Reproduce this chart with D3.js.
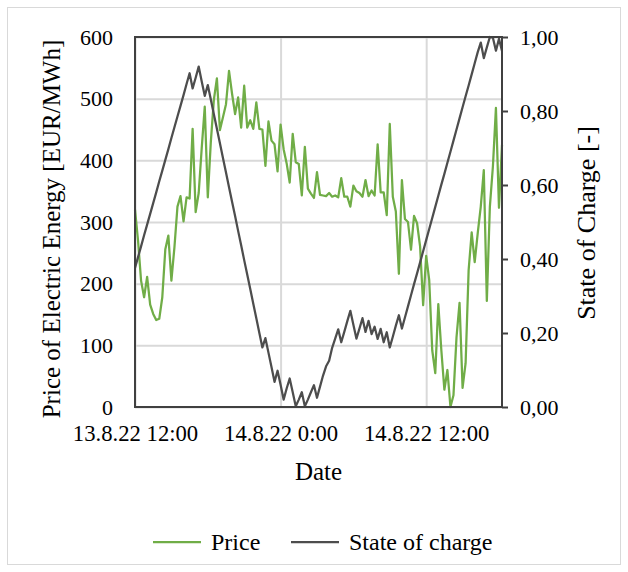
<!DOCTYPE html>
<html>
<head>
<meta charset="utf-8">
<script src="https://cdn.jsdelivr.net/npm/d3@7"></script>
<style>
    body { margin: 0; background: #ffffff; }
    svg text { font-family: "Liberation Serif", "Times New Roman", Times, Tinos, "DejaVu Serif", serif; fill: #000000; }
</style>
</head>
<body>
<script>
// data (15 min steps starting 13.8.22 12:00)
const startTime = new Date(2022, 7, 13, 12, 0);
const stepMinutes = 15;

const priceValues = [
    320, 270, 205, 178, 211, 166, 151, 141, 143, 178,
    256, 278, 205, 259, 325, 342, 301, 340, 338, 451,
    316, 347, 420, 487, 340, 430, 498, 533, 449, 470,
    491, 545, 508, 475, 502, 453, 521, 453, 465, 451,
    494, 451, 450, 391, 463, 432, 426, 382, 458, 418,
    395, 364, 443, 397, 394, 343, 422, 354, 346, 339,
    381, 344, 343, 342, 347, 341, 343, 340, 371, 341,
    341, 325, 359, 350, 347, 341, 368, 342, 351, 343,
    426, 348, 348, 311, 459, 341, 317, 216, 368, 305,
    300, 255, 310, 298, 260, 165, 245, 206, 92, 55,
    167, 92, 28, 60, 0, 19, 113, 169, 31, 71,
    222, 283, 235, 282, 325, 384, 172, 325, 390, 485,
    323, 425
];

const socValues = [
    0.376, 0.405, 0.434, 0.464, 0.493, 0.522, 0.551, 0.580, 0.610, 0.639,
    0.668, 0.697, 0.727, 0.756, 0.785, 0.814, 0.843, 0.873, 0.902, 0.861,
    0.890, 0.920, 0.880, 0.841, 0.870, 0.831, 0.791, 0.752, 0.713, 0.673,
    0.634, 0.594, 0.555, 0.516, 0.476, 0.437, 0.397, 0.358, 0.319, 0.279,
    0.240, 0.200, 0.161, 0.186, 0.147, 0.108, 0.068, 0.098, 0.060, 0.020,
    0.050, 0.077, 0.040, 0.002, 0.020, 0.040, 0.002, 0.020, 0.040, 0.059,
    0.025, 0.055, 0.085, 0.110, 0.125, 0.160, 0.185, 0.210, 0.175, 0.203,
    0.232, 0.260, 0.222, 0.185, 0.212, 0.240, 0.203, 0.233, 0.197, 0.217,
    0.184, 0.211, 0.175, 0.202, 0.161, 0.190, 0.220, 0.248, 0.212, 0.242,
    0.272, 0.302, 0.332, 0.361, 0.391, 0.421, 0.451, 0.481, 0.511, 0.541,
    0.571, 0.601, 0.630, 0.660, 0.690, 0.720, 0.750, 0.780, 0.810, 0.840,
    0.869, 0.899, 0.929, 0.959, 0.985, 0.943, 0.972, 1.000, 0.998, 0.963,
    0.995, 0.962
];

const xTickDates = [
    new Date(2022, 7, 13, 12, 0),
    new Date(2022, 7, 14, 0, 0),
    new Date(2022, 7, 14, 12, 0)
];
const priceTicks = [0, 100, 200, 300, 400, 500, 600];
const socTicks = [0, 0.2, 0.4, 0.6, 0.8, 1.0];
const seriesNames = ["Price", "State of charge"];
const colors = ["#70ad47", "#4d4d4d"];

const serif = '"Liberation Serif", "Times New Roman", Times, Tinos, "DejaVu Serif", serif';

// dimensions
const width = 628;
const height = 572;
const margin = { top: 37, right: 126, bottom: 165, left: 135 };
const plotW = width - margin.left - margin.right;
const plotH = height - margin.top - margin.bottom;

const times = priceValues.map((d, i) => new Date(startTime.getTime() + i * stepMinutes * 60000));

const x = d3.scaleTime()
    .domain(d3.extent(times))
    .range([0, plotW]);
const yPrice = d3.scaleLinear().domain([0, 600]).range([plotH, 0]);
const ySoc = d3.scaleLinear().domain([0, 1]).range([plotH, 0]);

const commaFormat = d3.formatLocale({ decimal: ",", thousands: ".", grouping: [3], currency: ["", "€"] }).format(".2f");
const dateFormat = d3.timeFormat("%-d.%-m.%y %-H:%M");

const svg = d3.select("body")
    .append("svg")
    .attr("width", width)
    .attr("height", height)
    .style("font-family", serif);

// outer chart border
svg.append("rect")
    .attr("x", 7.5)
    .attr("y", 7.5)
    .attr("width", 613)
    .attr("height", 557)
    .attr("fill", "none")
    .style("stroke", "#d9d9d9")
    .style("stroke-width", 1);

const g = svg.append("g")
    .attr("transform", "translate(" + margin.left + "," + margin.top + ")");

// horizontal grid
g.append("g")
    .attr("class", "grid-y")
    .call(d3.axisLeft(yPrice).tickValues(priceTicks).tickSize(-plotW).tickFormat(""))
    .call(s => s.select(".domain").remove())
    .selectAll("line")
    .style("stroke", "#d9d9d9")
    .style("stroke-width", 2);

// vertical grid
g.append("g")
    .attr("class", "grid-x")
    .attr("transform", "translate(0," + plotH + ")")
    .call(d3.axisBottom(x).tickValues(xTickDates).tickSize(-plotH).tickFormat(""))
    .call(s => s.select(".domain").remove())
    .selectAll("line")
    .style("stroke", "#d9d9d9")
    .style("stroke-width", 2);

// lines
const priceLine = d3.line()
    .x((d, i) => x(times[i]))
    .y(d => yPrice(d));
const socLine = d3.line()
    .x((d, i) => x(times[i]))
    .y(d => ySoc(d));

g.append("path")
    .attr("d", priceLine(priceValues))
    .attr("fill", "none")
    .attr("stroke", colors[0])
    .attr("stroke-width", 2.25)
    .attr("stroke-linejoin", "round");

g.append("path")
    .attr("d", socLine(socValues))
    .attr("fill", "none")
    .attr("stroke", colors[1])
    .attr("stroke-width", 2.25)
    .attr("stroke-linejoin", "round");

// plot frame
g.append("rect")
    .attr("width", plotW)
    .attr("height", plotH)
    .attr("fill", "none")
    .style("stroke", "#404040")
    .style("stroke-width", 2);

// helper to restyle axis labels
const styleTicks = (sel, size) => sel.selectAll("text")
    .attr("font-family", null)
    .style("font-family", serif)
    .style("font-size", size)
    .attr("fill", "#000");

// left axis
const leftAxis = g.append("g")
    .call(d3.axisLeft(yPrice).tickValues(priceTicks).tickSize(0).tickPadding(22));
leftAxis.attr("font-family", null).attr("font-size", null);
leftAxis.select(".domain").remove();
styleTicks(leftAxis, "22px");

// right axis
const rightAxis = g.append("g")
    .attr("transform", "translate(" + plotW + ",0)")
    .call(d3.axisRight(ySoc).tickValues(socTicks).tickSize(6).tickPadding(12).tickFormat(commaFormat));
rightAxis.attr("font-family", null).attr("font-size", null);
rightAxis.select(".domain").remove();
rightAxis.selectAll("line")
    .style("stroke", "#404040")
    .style("stroke-width", 2);
styleTicks(rightAxis, "22px");

// bottom axis
const bottomAxis = g.append("g")
    .attr("transform", "translate(0," + plotH + ")")
    .call(d3.axisBottom(x).tickValues(xTickDates).tickSize(0).tickPadding(18).tickFormat(dateFormat));
bottomAxis.attr("font-family", null).attr("font-size", null);
bottomAxis.select(".domain").remove();
styleTicks(bottomAxis, "22.7px");

// axis titles
svg.append("text")
    .attr("text-anchor", "middle")
    .attr("transform", "translate(60,229) rotate(-90)")
    .style("font-size", "25px")
    .text("Price of Electric Energy [EUR/MWh]");

svg.append("text")
    .attr("text-anchor", "middle")
    .attr("transform", "translate(595,223) rotate(-90)")
    .style("font-size", "26px")
    .text("State of Charge [-]");

svg.append("text")
    .attr("text-anchor", "middle")
    .attr("x", margin.left + plotW / 2)
    .attr("y", 480)
    .style("font-size", "25px")
    .text("Date");

// legend
const legendX = [153, 291];
const legend = svg.selectAll(".legend")
    .data(seriesNames)
    .enter()
    .append("g")
    .attr("class", "legend")
    .attr("transform", (d, i) => "translate(" + legendX[i] + ",542)");

legend.append("line")
    .attr("x1", 0)
    .attr("x2", 48)
    .style("stroke", (d, i) => colors[i])
    .style("stroke-width", 2.25);

legend.append("text")
    .attr("x", 58)
    .attr("y", 8)
    .style("font-size", "24px")
    .text(d => d);
</script>
</body>
</html>
